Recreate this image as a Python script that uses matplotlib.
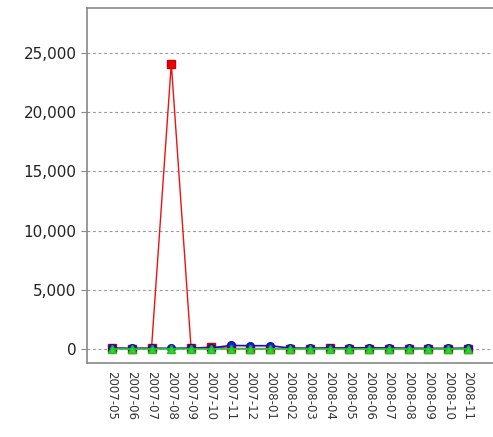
import matplotlib
matplotlib.use("Agg")
from matplotlib import pyplot as plt
from matplotlib.ticker import FuncFormatter

months = ['2007-05', '2007-06', '2007-07', '2007-08', '2007-09', '2007-10', '2007-11',
          '2007-12', '2008-01', '2008-02', '2008-03', '2008-04', '2008-05', '2008-06',
          '2008-07', '2008-08', '2008-09', '2008-10', '2008-11']
red_vals = [60, 40, 50, 24100, 60, 180, 50, 40, 40, 30, 30, 120, 40, 40, 40, 30, 30, 30, 40]
blue_vals = [80, 60, 70, 60, 80, 90, 300, 280, 280, 80, 70, 70, 100, 100, 90, 70, 60, 60, 70]
green_vals = [-20, -20, -20, -20, -20, -20, -20, -20, -20, -20, -20, -20, -20, -20, -20, -20, -20, -20, -20]

fig = plt.figure(figsize=(4.93, 4.37), dpi=100, facecolor='white')
ax = fig.add_axes([87 / 493, 74 / 437, 1 - 87 / 493, (363 - 8) / 437])

x = list(range(len(months)))
ax.plot(x, red_vals, color='#ee1111', lw=1.0, marker='s', ms=5.5,
        markerfacecolor='#ee0000', markeredgecolor='#cc0000', zorder=3)
ax.plot(x, blue_vals, color='#1111cc', lw=1.2, marker='o', ms=5.5,
        markerfacecolor='#2222cc', markeredgecolor='#1111aa', zorder=4)
ax.plot(x, green_vals, color='#33cc33', lw=1.2, marker='^', ms=5.5,
        markerfacecolor='#22dd22', markeredgecolor='#22bb22', zorder=5)

ax.set_xlim(-1.26, 19.26)
ax.set_ylim(-1180, 28800)
ax.set_yticks([0, 5000, 10000, 15000, 20000, 25000])
ax.yaxis.set_major_formatter(FuncFormatter(lambda v, p: f'{int(v):,}'))
ax.set_xticks(x)
ax.set_xticklabels(months, rotation=270, fontsize=8.5, color='#333333')
ax.tick_params(axis='y', labelsize=11, colors='#222222', length=4, color='#888888')
ax.tick_params(axis='x', length=0, pad=6)
ax.grid(axis='y', linestyle=(0, (2.5, 2.5)), color='#999999', lw=0.8)
ax.set_axisbelow(True)
for side in ['left', 'top', 'bottom']:
    ax.spines[side].set_color('#888888')
    ax.spines[side].set_linewidth(1.2)
ax.spines['right'].set_visible(False)

plt.savefig('out.png', dpi=100)
